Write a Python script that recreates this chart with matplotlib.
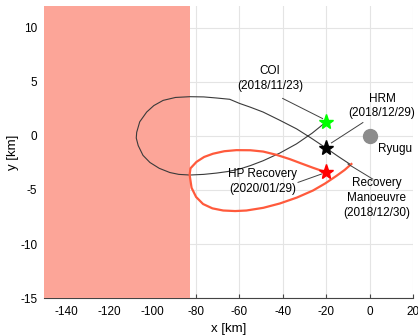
import matplotlib

matplotlib.use("Agg")
import matplotlib.pyplot as plt

# trajectory before the recovery manoeuvre (COI -> HRM -> manoeuvre)
black_x = [-20.0, -26.5, -33.7, -41.5, -49.1, -55.0, -60.0, -65.5, -70.6, -76.5, -82.9, -88.0,
           -92.1, -97.0, -101.3, -104.5, -106.7, -107.6, -107.4, -106.0, -102.8, -99.5, -95.2,
           -89.5, -82.9, -76.5, -70.6, -64.5, -60.0, -55.0, -49.1, -41.5, -33.7, -27.0,
           -19.9, -14.5, -9.2]
black_y = [1.3, 0.25, -0.74, -1.6, -2.3, -2.75, -3.07, -3.3, -3.44, -3.56, -3.62, -3.56,
           -3.39, -3.0, -2.46, -1.8, -0.9, -0.2, 0.33, 1.3, 2.2, 2.8, 3.28,
           3.55, 3.62, 3.6, 3.5, 3.38, 3.0, 2.65, 2.2, 1.45, 0.65, -0.2,
           -1.15, -1.9, -2.6]

# trajectory after the recovery manoeuvre (HP recovery)
red_x = [-8.4, -11.5, -15.3, -20.5, -26.1, -33.5, -41.4, -49.0, -56.8, -62.0, -67.5, -72.5,
         -76.8, -80.0, -82.1, -83.0, -82.6, -79.8, -76.3, -72.2, -67.0, -61.4, -55.0,
         -49.1, -43.0, -36.8, -31.5, -26.1, -22.5, -19.9]
red_y = [-2.6, -3.15, -3.7, -4.4, -5.05, -5.7, -6.25, -6.65, -6.9, -6.95, -6.9, -6.7,
         -6.3, -5.65, -4.8, -3.6, -3.0, -2.4, -1.95, -1.65, -1.42, -1.32, -1.33,
         -1.45, -1.75, -2.15, -2.55, -2.95, -3.2, -3.35]

events_x = [-20.0, -19.9, -19.9]
events_y = [1.3, -1.15, -3.35]
events_color = ["#00ff00", "black", "red"]

ryugu = (0.0, 0.0)
forbidden_x = (-150.0, -83.0)

labels = ["COI\n(2018/11/23)", "HRM\n(2018/12/29)", "HP Recovery\n(2020/01/29)",
          "Recovery\nManoeuvre\n(2018/12/30)"]
label_xy = [(-46.0, 5.3), (5.7, 2.75), (-49.3, -4.2), (3.2, -5.75)]
leader_from = [(-40.1, 3.46), (-3.1, 1.23), (-33.0, -4.3), (1.5, -4.0)]
leader_to = [(-21.7, 1.6), (-17.6, -0.65), (-22.2, -3.53), (-10.0, -2.6)]

plt.rcParams["font.family"] = ["Liberation Sans", "DejaVu Sans"]
plt.rcParams["font.size"] = 8.5

fig = plt.figure(figsize=(4.18, 3.35), dpi=100)
ax = fig.add_axes([0.106, 0.11, 0.882, 0.872])

ax.axvspan(*forbidden_x, color="#fca598", lw=0, zorder=3)
ax.plot(black_x, black_y, color="#3a3a3a", lw=0.8, zorder=4)
ax.plot(red_x, red_y, color="#ff5a3c", lw=1.6, zorder=4)
for x, y, c in zip(events_x, events_y, events_color):
    ax.plot(x, y, marker="*", ms=11, color=c, mec=c, ls="none", zorder=6)
ax.plot(*ryugu, marker="o", ms=10, color="#8c8c8c", mec="#8c8c8c", ls="none", zorder=5)
ax.text(3.7, -1.18, "Ryugu", ha="left", va="center", zorder=6)

for text, (tx, ty), p0, p1 in zip(labels, label_xy, leader_from, leader_to):
    ax.text(tx, ty, text, ha="center", va="center", linespacing=1.3, zorder=6)
    ax.plot([p0[0], p1[0]], [p0[1], p1[1]], color="#404040", lw=0.7, zorder=5)

ax.set_xlim(-150, 20)
ax.set_ylim(-15, 12)
ax.set_xticks(range(-140, 21, 20))
ax.set_yticks(range(-15, 11, 5))
ax.set_xticklabels([str(v) for v in range(-140, 21, 20)])
ax.set_yticklabels([str(v) for v in range(-15, 11, 5)])
ax.grid(True, color="#e4e4e4", lw=0.8, zorder=0)
ax.set_axisbelow(True)
for side in ("top", "right", "left"):
    ax.spines[side].set_visible(False)
ax.spines["bottom"].set_color("#444444")
ax.spines["bottom"].set_linewidth(0.8)
ax.tick_params(axis="x", direction="in", length=3, color="#444444", pad=6)
ax.tick_params(axis="y", length=0, pad=5)
ax.set_xlabel("x [km]", fontsize=9.5, labelpad=3)
ax.set_ylabel("y [km]", fontsize=9.5, labelpad=1)

fig.savefig("out.png", dpi=100)
plt.close(fig)
